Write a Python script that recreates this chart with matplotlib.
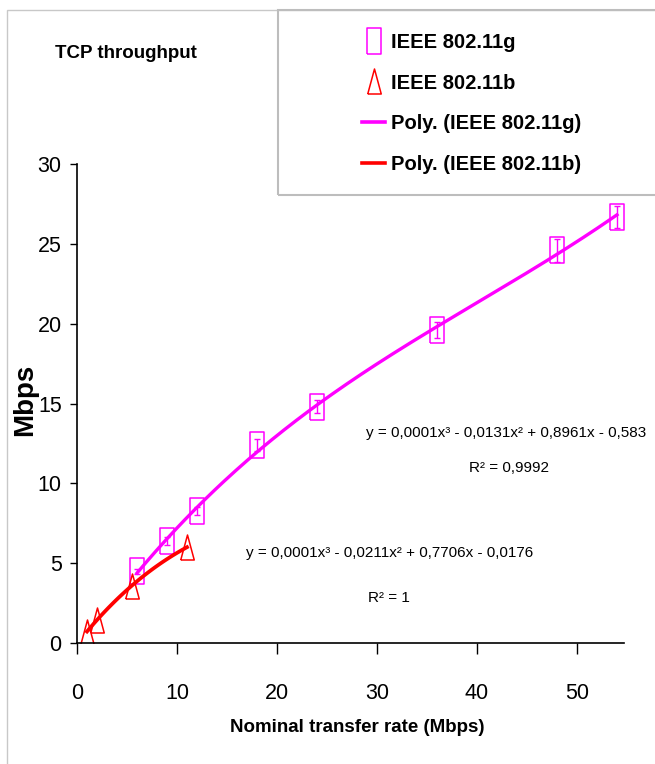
import numpy as np
import matplotlib.pyplot as plt
from matplotlib.patches import Rectangle
from matplotlib.lines import Line2D

plt.rcParams['font.family'] = ['Liberation Sans', 'DejaVu Sans']

# IEEE 802.11g measurements (nominal rate -> TCP throughput, Mbps)
rate_g = [6, 9, 12, 18, 24, 36, 48, 54]
tput_g = [4.5, 6.4, 8.25, 12.4, 14.8, 19.6, 24.6, 26.7]
err_g = [0.15, 0.25, 0.26, 0.4, 0.4, 0.5, 0.73, 0.68]

# IEEE 802.11b measurements
rate_b = [1, 2, 5.5, 11]
tput_b = [0.72, 1.44, 3.6, 6.0]

eq_g = 'y = 0,0001x³ - 0,0131x² + 0,8961x - 0,583'
r2_g = 'R² = 0,9992'
eq_b = 'y = 0,0001x³ - 0,0211x² + 0,7706x - 0,0176'
r2_b = 'R² = 1'

magenta = '#FF00FF'
red = '#FF0000'
W, H = 655, 764

fig = plt.figure(figsize=(W / 100, H / 100), dpi=100)
ax = fig.add_axes([77 / W, 121 / H, 547 / W, 479 / H])

# tall hollow markers
box = [(-0.27, -0.5), (0.27, -0.5), (0.27, 0.5), (-0.27, 0.5), (-0.27, -0.5)]
tri = [(-0.27, -0.5), (0.27, -0.5), (0, 0.5), (-0.27, -0.5)]

ax.errorbar(rate_g, tput_g, yerr=err_g, fmt='none', ecolor=magenta,
            elinewidth=1, capsize=2.5, capthick=1)
ax.plot(rate_g, tput_g, ls='none', marker=box, ms=19, mfc='none', mec=magenta, mew=1.1)
ax.plot(rate_b, tput_b, ls='none', marker=tri, ms=18, mfc='none', mec=red, mew=1.1)

# 3rd order polynomial trend lines
xg = np.linspace(min(rate_g), max(rate_g), 200)
ax.plot(xg, np.polyval(np.polyfit(rate_g, tput_g, 3), xg), color=magenta, lw=2.4, zorder=4)
xb = np.linspace(min(rate_b), max(rate_b), 100)
ax.plot(xb, np.polyval(np.polyfit(rate_b, tput_b, 3), xb), color=red, lw=2.7, zorder=4)

ax.set_xlim(0, 54.7)
ax.set_ylim(0, 30)
ax.set_xticks([0, 10, 20, 30, 40, 50])
ax.set_yticks([0, 5, 10, 15, 20, 25, 30])
for s in ['top', 'right']:
    ax.spines[s].set_visible(False)
for s in ['left', 'bottom']:
    ax.spines[s].set_linewidth(1.2)
ax.tick_params(axis='x', direction='out', length=8, width=1, pad=21, labelsize=15.5)
ax.tick_params(axis='y', direction='out', length=5, width=1, pad=6, labelsize=15.5)

fig.text(506 / W, 1 - 433 / H, eq_g, ha='center', va='center', fontsize=11)
fig.text(509 / W, 1 - 468 / H, r2_g, ha='center', va='center', fontsize=11)
fig.text(390 / W, 1 - 553 / H, eq_b, ha='center', va='center', fontsize=11)
fig.text(389 / W, 1 - 598 / H, r2_b, ha='center', va='center', fontsize=11)

fig.text(126 / W, 1 - 54 / H, 'TCP throughput', ha='center', va='center',
         fontsize=13.5, weight='bold')
fig.text(357 / W, 1 - 728 / H, 'Nominal transfer rate (Mbps)', ha='center', va='center',
         fontsize=13.5, weight='bold')
fig.text(25 / W, 1 - 400 / H, 'Mbps', rotation=90, ha='center', va='center',
         fontsize=20, weight='bold')

# chart area and legend frames
fig.add_artist(Rectangle((7 / W, -0.5), 2, 1 - 10 / H + 0.5, transform=fig.transFigure,
                         fill=False, ec='#C8C8C8', lw=1))
fig.add_artist(Rectangle((278 / W, 1 - 195 / H), 2, 185 / H, transform=fig.transFigure,
                         fill=False, ec='#BDBDBD', lw=1.5))

handles = [
    Line2D([], [], ls='none', marker=box, ms=19, mfc='none', mec=magenta, mew=1.1),
    Line2D([], [], ls='none', marker=tri, ms=18, mfc='none', mec=red, mew=1.1),
    Line2D([], [], color=magenta, lw=2.6),
    Line2D([], [], color=red, lw=2.6),
]
labels = ['IEEE 802.11g', 'IEEE 802.11b', 'Poly. (IEEE 802.11g)', 'Poly. (IEEE 802.11b)']
leg = fig.legend(handles, labels, loc='upper left', bbox_to_anchor=(362 / W, 1 - 33 / H),
                 frameon=False, borderpad=0, borderaxespad=0, handlelength=1.15,
                 handletextpad=0.3, labelspacing=1.07,
                 prop={'size': 14.5, 'weight': 'bold'})

fig.savefig('out.png', dpi=100)
